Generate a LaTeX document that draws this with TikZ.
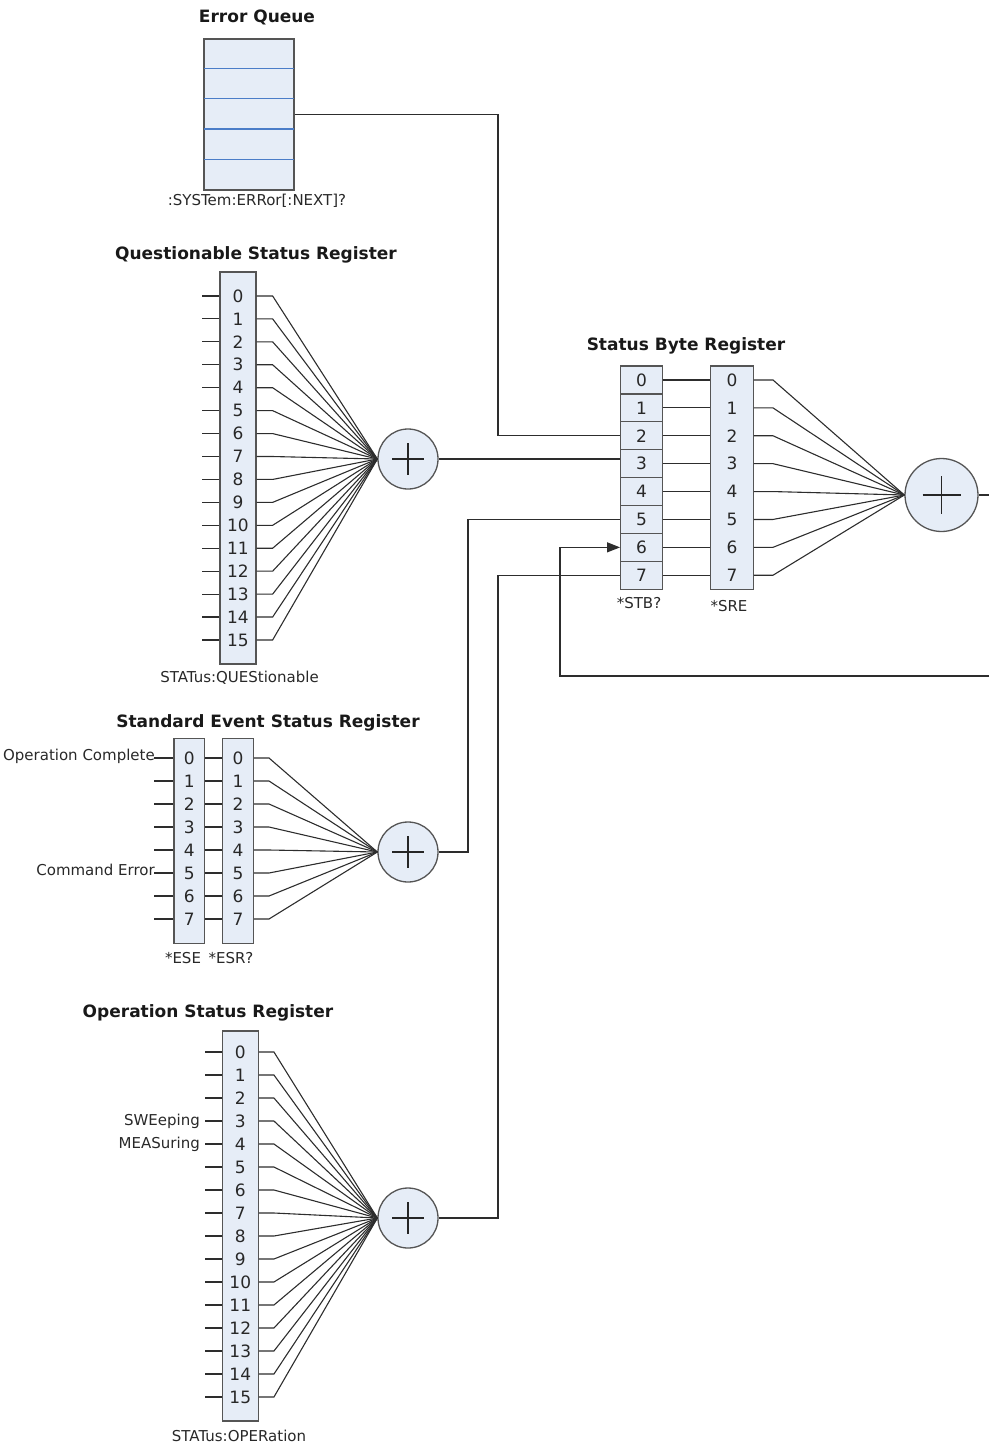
\documentclass[tikz,border=0pt]{standalone}
\usepackage{fontspec}
\setmainfont{DejaVu Sans}
\usetikzlibrary{arrows.meta,calc}
\definecolor{boxfill}{RGB}{230,237,247}
\definecolor{boxline}{RGB}{85,85,85}
\definecolor{wirec}{RGB}{45,45,45}
\definecolor{qline}{RGB}{75,125,200}
\definecolor{txt}{RGB}{40,40,40}
\begin{document}
\begin{tikzpicture}[x=1pt,y=-1pt,
  reg/.style={draw=boxline,fill=boxfill,line width=1.3pt,inner sep=0,rectangle},
  cell/.style={reg,minimum width=41.6,minimum height=27.9,font=\fontsize{17}{17}\selectfont,text=txt},
  wire/.style={draw=wirec,line width=1.1pt},
  num/.style={font=\fontsize{17}{17}\selectfont,inner sep=0,text=txt},
  title/.style={font=\bfseries\fontsize{17}{17}\selectfont,inner sep=0,text=black!90},
  lbl/.style={font=\fontsize{15}{15}\selectfont,inner sep=0,text=txt},
  sum/.style={circle,draw=boxline,fill=boxfill,line width=1.3pt,inner sep=0,minimum size=#1}]
\useasboundingbox (0,0) rectangle (989,1443);

% ---------- Error Queue ----------
\node[title] (eqt) at (257,17) {Error Queue};
\node[reg,minimum width=90,minimum height=151] (eq) at (249,114.5) {};
\foreach \k in {1,...,4}
  \draw[qline,line width=1.2pt] ($(eq.north west)+(0.7,30.2*\k)$) -- ($(eq.north east)+(-0.7,30.2*\k)$);
\node[lbl] (eql) at (257,201) {:SYSTem:ERRor[:NEXT]?};

% ---------- Questionable ----------
\node[title] (qt) at (256,255) {Questionable Status Register};
\node[reg,minimum width=36,minimum height=392] (qsr) at (238,468) {};
\foreach \i in {0,...,15} \node[num] (q\i) at (238,{296+22.93*\i}) {\i};
\node[sum=60] (qsum) at (408,459) {};
\foreach \i in {0,...,15} {
  \draw[wire] (qsr.west |- q\i) -- ++(-17,0);
  \draw[wire] (qsr.east |- q\i) -- ++(16,0) -- (qsum.west);
}
\node[lbl] (ql) at (239.5,678) {STATus:QUEStionable};

% ---------- Status Byte ----------
\node[title] (sbt) at (686,346) {Status Byte Register};
\foreach \i in {0,...,7} \node[cell] (stb\i) at (641.5,{366+27.9*(\i+0.5)}) {\i};
\node[reg,minimum width=42.6,minimum height=223.2] (sre) at (732,477.6) {};
\foreach \i in {0,...,7} \node[num] (sre\i) at (sre.center |- stb\i) {\i};
\node[sum=73] (sbsum) at (941.5,495) {};
\foreach \i in {0,...,7} {
  \draw[wire] (stb\i.east) -- (sre.west |- stb\i);
  \draw[wire] (sre.east |- stb\i) -- ++(19,0) -- (sbsum.west);
}
\coordinate (sbout) at (989,495);
\draw[wire] (sbsum.east) -- (sbout);
\node[lbl] (stbl) at (639,603) {*STB?};
\node[lbl] (srel) at (729,606) {*SRE};

% feedback
\coordinate (fbin) at (989,676);
\coordinate (fbx) at (560,676);
\draw[wire,-{Triangle[length=13,width=10]}] (fbin) -- (fbx) -- (fbx |- stb6) -- (stb6.west);

% error queue to bit 2
\coordinate (ejog) at (498,0);
\draw[wire] (eq.east) -- (eq.east -| ejog) -- (ejog |- stb2) -- (stb2.west);
% questionable to bit 3
\draw[wire] (qsum.east) -- (qsum.east -| stb3.west);

% ---------- Standard Event ----------
\node[title] (set) at (268,723) {Standard Event Status Register};
\node[reg,minimum width=30.7,minimum height=205] (ese) at (189.3,840.7) {};
\node[reg,minimum width=30.7,minimum height=205] (esr) at (238,840.7) {};
\foreach \i in {0,...,7} {
  \node[num] (ese\i) at (189.3,{758+23*\i}) {\i};
  \node[num] (esr\i) at (238,{758+23*\i}) {\i};
}
\node[sum=60] (sesum) at (408,852) {};
\foreach \i in {0,...,7} {
  \draw[wire] (ese.west |- ese\i) -- ++(-19,0);
  \draw[wire] (ese.east |- ese\i) -- (esr.west |- ese\i);
  \draw[wire] (esr.east |- esr\i) -- ++(15,0) -- (sesum.west);
}
\node[lbl,anchor=east] (opc) at (155,756) {Operation Complete};
\node[lbl,anchor=east] (cme) at (155,870) {Command Error};
\node[lbl] (esel) at (183,958) {*ESE};
\node[lbl] (esrl) at (231,958) {*ESR?};
\coordinate (sejog) at (468,0);
\draw[wire] (sesum.east) -- (sesum.east -| sejog) -- (sejog |- stb5) -- (stb5.west);

% ---------- Operation ----------
\node[title] (opt) at (208,1013) {Operation Status Register};
\node[reg,minimum width=36,minimum height=390] (osr) at (240.3,1226) {};
\foreach \i in {0,...,15} \node[num] (o\i) at (240.3,{1052+23*\i}) {\i};
\node[sum=60] (opsum) at (408,1218) {};
\foreach \i in {0,...,15} {
  \draw[wire] (osr.west |- o\i) -- ++(-17,0);
  \draw[wire] (osr.east |- o\i) -- ++(15,0) -- (opsum.west);
}
\node[lbl,anchor=east] (swe) at (200,1121) {SWEeping};
\node[lbl,anchor=east] (mea) at (200,1144) {MEASuring};
\node[lbl] (opl) at (239,1436) {STATus:OPERation};
\draw[wire] (opsum.east) -- (opsum.east -| ejog) -- (ejog |- stb7) -- (stb7.west);

% plus signs
\foreach \s/\h in {qsum/16,sesum/16,opsum/16,sbsum/19} {
  \draw[line width=1.6pt,black!85] ($(\s)+(-\h,0)$) -- ($(\s)+(\h,0)$);
  \draw[line width=1.6pt,black!85] ($(\s)+(0,-\h)$) -- ($(\s)+(0,\h)$);
}
\end{tikzpicture}
\end{document}
